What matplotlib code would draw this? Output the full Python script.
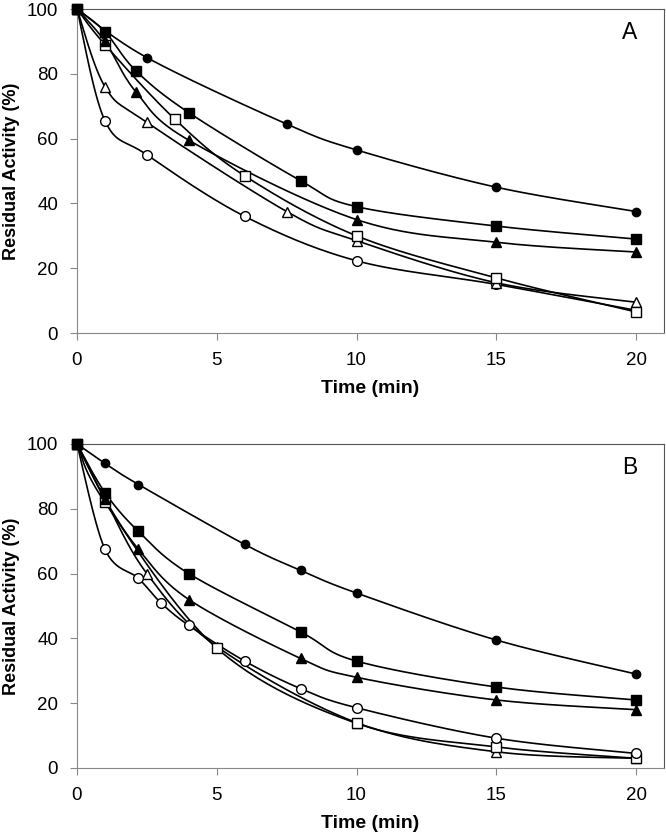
import numpy as np
import matplotlib
matplotlib.use("Agg")
import matplotlib.pyplot as plt

plt.rcParams['font.family'] = ['Liberation Sans', 'DejaVu Sans']

# ============ Données ============
# Panneau A
a_circle_t = [0, 2.5, 7.5, 10, 15, 20]
a_circle_v = [100, 85, 64.5, 56.5, 45, 37.5]
a_square_t = [0, 1, 2.1, 4, 8, 10, 15, 20]
a_square_v = [100, 93, 81, 68, 47, 39, 33, 29]
a_tri_t = [0, 1, 2.1, 4, 10, 15, 20]
a_tri_v = [100, 90, 74.5, 59.5, 35, 28, 25]
a_osquare_t = [0, 1, 3.5, 6, 10, 15, 20]
a_osquare_v = [100, 89, 66, 48.5, 30, 17, 6.5]
a_otri_t = [0, 1, 2.5, 7.5, 10, 15, 20]
a_otri_v = [100, 76, 65, 37.5, 28.5, 15.5, 9.5]
a_ocircle_t = [0, 1, 2.5, 6, 10, 15, 20]
a_ocircle_v = [100, 65.5, 55, 36, 22.3, 15, 7]

# Panneau B
b_circle_t = [0, 1, 2.2, 6, 8, 10, 15, 20]
b_circle_v = [100, 94, 87.5, 69, 61, 54, 39.5, 29]
b_square_t = [0, 1, 2.2, 4, 8, 10, 15, 20]
b_square_v = [100, 85, 73, 60, 42, 33, 25, 21]
b_tri_t = [0, 1, 2.2, 4, 8, 10, 15, 20]
b_tri_v = [100, 83, 67.5, 52, 33.8, 28, 21, 18]
b_osquare_t = [0, 1, 5, 10, 15, 20]
b_osquare_v = [100, 82, 37, 13.8, 6.5, 3]
b_otri_t = [0, 1, 2.5, 5, 10, 15, 20]
b_otri_v = [100, 83, 60, 37.5, 14, 5, 3]
b_ocircle_t = [0, 1, 2.2, 3, 4, 6, 8, 10, 15, 20]
b_ocircle_v = [100, 67.5, 58.5, 51, 44, 33, 24.5, 18.6, 9.2, 4.5]

x_ticks = [0, 5, 10, 15, 20]
y_ticks = [0, 20, 40, 60, 80, 100]


# ============ Courbe lissée (style Excel) ============
def smooth(t, v, n=30):
    t = np.asarray(t, float)
    v = np.asarray(v, float)
    P = np.column_stack([t, v])
    P = np.vstack([P[0], P, P[-1]])
    out = []
    for i in range(1, len(P) - 2):
        p0, p1, p2, p3 = P[i - 1], P[i], P[i + 1], P[i + 2]
        s = np.linspace(0, 1, n)[:, None]
        c1 = p1 + (p2 - p0) / 6
        c2 = p2 - (p3 - p1) / 6
        seg = (1 - s)**3 * p1 + 3 * (1 - s)**2 * s * c1 + 3 * (1 - s) * s**2 * c2 + s**3 * p2
        out.append(seg)
    out = np.vstack(out)
    return out[:, 0], out[:, 1]


def draw_series(ax, t, v, marker, filled, ms, z):
    xs, ys = smooth(t, v)
    ax.plot(xs, ys, color='black', lw=1.2, zorder=2)
    ax.plot(t, v, ls='none', marker=marker, ms=ms, clip_on=False,
            mfc='black' if filled else 'white', mec='black', mew=1.0, zorder=3 + z)


def setup_axes(ax, letter):
    ax.set_xlim(0, 21)
    ax.set_ylim(0, 100)
    ax.set_xticks(x_ticks)
    ax.set_yticks(y_ticks)
    ax.tick_params(direction='out', length=5, width=0.8, color='#888888',
                   labelsize=13.5, pad=8.5)
    for side in ['left', 'bottom']:
        ax.spines[side].set_color('#888888')
    for side in ['top', 'right']:
        ax.spines[side].set_color('#555555')
    ax.set_xlabel('Time (min)', fontsize=14, fontweight='bold', labelpad=8)
    ax.set_ylabel('Residual Activity (%)', fontsize=13, fontweight='bold')
    ax.yaxis.set_label_coords(-0.097, 0.5)
    ax.text(0.954, 0.926, letter, transform=ax.transAxes, fontsize=16.5,
            ha='right', va='center')


fig = plt.figure(figsize=(6.66, 8.35), dpi=100)
W, H = 666, 835
axA = fig.add_axes([77 / W, 1 - 333 / H, (664 - 77) / W, (333 - 9) / H])
axB = fig.add_axes([77 / W, 1 - 768 / H, (664 - 77) / W, (768 - 444) / H])

# ordre de tracé : le carré plein passe au-dessus
series_A = [
    (a_ocircle_t, a_ocircle_v, 'o', False, 7),
    (a_otri_t, a_otri_v, '^', False, 7.3),
    (a_osquare_t, a_osquare_v, 's', False, 7.3),
    (a_circle_t, a_circle_v, 'o', True, 6),
    (a_tri_t, a_tri_v, '^', True, 7.3),
    (a_square_t, a_square_v, 's', True, 7.3),
]
series_B = [
    (b_otri_t, b_otri_v, '^', False, 7.3),
    (b_osquare_t, b_osquare_v, 's', False, 7.3),
    (b_ocircle_t, b_ocircle_v, 'o', False, 7),
    (b_circle_t, b_circle_v, 'o', True, 6),
    (b_tri_t, b_tri_v, '^', True, 7.3),
    (b_square_t, b_square_v, 's', True, 7.3),
]

for z, (t, v, m, f, ms) in enumerate(series_A):
    draw_series(axA, t, v, m, f, ms, z)
for z, (t, v, m, f, ms) in enumerate(series_B):
    draw_series(axB, t, v, m, f, ms, z)

setup_axes(axA, 'A')
setup_axes(axB, 'B')

fig.savefig('out.png', dpi=100)
